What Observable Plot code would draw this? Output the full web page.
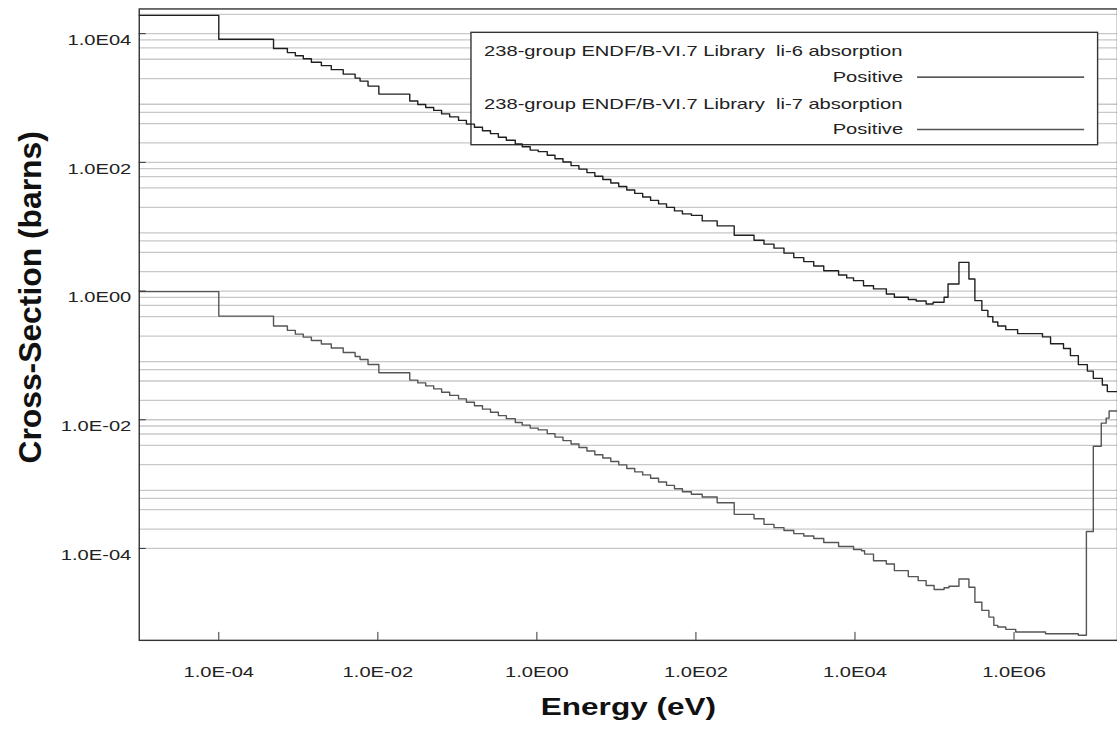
<!DOCTYPE html>
<html><head><meta charset="utf-8">
<script src="https://cdn.jsdelivr.net/npm/d3@7"></script>
<script src="https://cdn.jsdelivr.net/npm/@observablehq/plot@0.6"></script>
<style>
html,body{margin:0;padding:0;background:#fff;overflow:hidden;width:1117px;height:738px}
#chart{position:relative;width:1117px;height:738px;overflow:hidden}
svg{display:block}
</style></head><body><div id="chart"></div>
<script>
// ---- data ----
const li6Energy = [1e-5, 1e-4, 4.88e-4, 7.29e-4, 9.18e-4, 1.156e-3, 1.46e-3, 1.95e-3, 2.60e-3, 3.67e-3, 5.18e-3, 5.98e-3, 7.53e-3, 1.03e-2, 2.52e-2, 3.18e-2, 4.00e-2, 5.04e-2, 6.34e-2, 8.0e-2, 0.1035, 0.130, 0.164, 0.207, 0.261, 0.328, 0.413, 0.535, 0.654, 0.824, 1.04, 1.35, 1.69, 2.13, 2.69, 3.38, 4.26, 5.36, 6.75, 8.50, 10.7, 13.5, 17.0, 21.4, 26.9, 33.9, 42.7, 53.7, 67.6, 87.7, 120, 185, 303, 538, 718, 958, 1.28e3, 1.70e3, 2.27e3, 3.03e3, 4.05e3, 6.22e3, 7.87e3, 9.59e3, 1.28e4, 1.71e4, 2.48e4, 3.13e4, 4.68e4, 5.89e4, 7.85e4, 9.61e4, 1.32e5, 1.48e5, 2.03e5, 2.71e5, 3.22e5, 3.94e5, 4.69e5, 5.41e5, 6.25e5, 7.87e5, 1.11e6, 2.28e6, 2.88e6, 4.19e6, 5.12e6, 6.44e6, 8.36e6, 9.93e6, 1.29e7, 1.49e7, 2e7];
const li6Sigma = [1.92e4, 8.2e3, 5.87e3, 5.08e3, 4.54e3, 4.08e3, 3.6e3, 3.18e3, 2.76e3, 2.35e3, 2.04e3, 1.83e3, 1.53e3, 1.15e3, 900, 794, 713, 641, 566, 509, 449, 393, 351, 310, 279, 246, 220, 193, 175, 155, 147, 129, 114, 101, 88.9, 78.5, 69.3, 60.8, 54.1, 47.8, 42.2, 37.2, 32.9, 29.0, 25.6, 22.6, 20.0, 17.6, 15.8, 15.0, 12.3, 10.3, 7.38, 6.17, 5.35, 4.64, 3.88, 3.31, 2.87, 2.45, 2.07, 1.78, 1.60, 1.45, 1.21, 1.08, 0.90, 0.80, 0.74, 0.70, 0.63, 0.67, 0.80, 1.29, 2.79, 1.54, 0.71, 0.50, 0.40, 0.33, 0.286, 0.251, 0.218, 0.194, 0.152, 0.128, 0.099, 0.072, 0.057, 0.044, 0.0346, 0.0274, 0.0274];

const li7Energy = [1e-5, 1e-4, 4.88e-4, 7.29e-4, 9.18e-4, 1.156e-3, 1.46e-3, 1.95e-3, 2.60e-3, 3.67e-3, 5.18e-3, 5.98e-3, 7.53e-3, 1.03e-2, 2.52e-2, 3.18e-2, 4.00e-2, 5.04e-2, 6.34e-2, 8.0e-2, 0.1035, 0.130, 0.164, 0.207, 0.261, 0.328, 0.413, 0.535, 0.654, 0.824, 1.04, 1.35, 1.69, 2.13, 2.69, 3.38, 4.26, 5.36, 6.75, 8.50, 10.7, 13.5, 17.0, 21.4, 26.9, 33.9, 42.7, 53.7, 67.6, 87.7, 120, 185, 303, 538, 718, 958, 1.28e3, 1.70e3, 2.27e3, 3.03e3, 4.05e3, 6.22e3, 9.59e3, 1.21e4, 1.32e4, 1.71e4, 2.48e4, 3.13e4, 4.68e4, 6.24e4, 7.85e4, 9.89e4, 1.32e5, 1.52e5, 2.03e5, 2.71e5, 3.22e5, 3.94e5, 4.83e5, 5.57e5, 6.25e5, 7.87e5, 1.05e6, 2.49e6, 6.44e6, 8.13e6, 9.93e6, 1.25e7, 1.44e7, 1.57e7, 2e7];
const li7Sigma = [0.98, 0.408, 0.286, 0.245, 0.214, 0.192, 0.170, 0.150, 0.130, 0.111, 0.096, 0.0863, 0.0722, 0.0537, 0.0413, 0.0374, 0.0336, 0.0302, 0.0267, 0.0239, 0.0211, 0.0187, 0.0165, 0.0146, 0.0131, 0.0116, 0.0104, 0.00907, 0.00824, 0.00741, 0.00697, 0.00609, 0.00537, 0.00474, 0.00419, 0.00370, 0.00327, 0.00286, 0.00255, 0.00225, 0.00199, 0.00175, 0.00155, 0.00139, 0.00123, 0.00108, 9.57e-4, 8.46e-4, 7.60e-4, 6.95e-4, 6.29e-4, 5.14e-4, 3.39e-4, 2.90e-4, 2.37e-4, 2.11e-4, 1.90e-4, 1.70e-4, 1.56e-4, 1.43e-4, 1.24e-4, 1.07e-4, 9.64e-5, 9.20e-5, 8.16e-5, 6.45e-5, 5.72e-5, 4.52e-5, 3.65e-5, 3.16e-5, 2.65e-5, 2.30e-5, 2.45e-5, 2.58e-5, 3.35e-5, 2.49e-5, 1.46e-5, 1.09e-5, 8.57e-6, 6.38e-6, 6.01e-6, 5.53e-6, 5.03e-6, 4.73e-6, 4.47e-6, 1.83e-4, 3.87e-3, 8.85e-3, 1.06e-2, 1.37e-2, 1.37e-2];

const xTicks = [1e-4, 1e-2, 1, 1e2, 1e4, 1e6];
const xTickLabels = ["1.0E-04", "1.0E-02", "1.0E00", "1.0E02", "1.0E04", "1.0E06"];
const yTicks = [1e-4, 1e-2, 1, 1e2, 1e4];
const yTickLabels = ["1.0E-04", "1.0E-02", "1.0E00", "1.0E02", "1.0E04"];
const gridValues = [1e-4, 2e-4, 4e-4, 6e-4, 8e-4, 2e-3, 4e-3, 6e-3, 8e-3, 1e-2, 2e-2, 4e-2, 6e-2, 8e-2, 0.2, 0.4, 0.6, 0.8, 1, 2, 4, 6, 8, 20, 40, 60, 80, 100, 200, 400, 600, 800, 2000, 4000, 6000, 8000, 1e4, 2e4];

const seriesNames = ["238-group ENDF/B-VI.7 Library  li-6 absorption", "238-group ENDF/B-VI.7 Library  li-7 absorption"];
const seriesSub = ["Positive", "Positive"];
const seriesColors = ["#1f1f1f", "#555555"];
const xTitle = "Energy (eV)";
const yTitle = "Cross-Section (barns)";

// ---- build ----
const li6Rows = li6Energy.map((e, i) => ({E: e, s: li6Sigma[i]}));
const li7Rows = li7Energy.map((e, i) => ({E: e, s: li7Sigma[i]}));

const W = 1123, H = 738;
const plotBottom = 643.3;
const FONT = "'Liberation Sans', Arial, sans-serif";

const chart = Plot.plot({
  width: W, height: H,
  marginLeft: 139.5, marginRight: 0, marginTop: 8.5, marginBottom: H - plotBottom,
  style: {fontFamily: FONT, background: "#fff", color: "#222"},
  x: {type: "log", domain: [1e-5, 2e7], label: null},
  y: {type: "log", domain: [3.73e-6, 2.42e4], label: null},
  marks: [
    Plot.ruleY(gridValues, {stroke: "#c8c8c8", strokeWidth: 1.3}),
    Plot.line(li6Rows, {x: "E", y: "s", curve: "step-after", stroke: seriesColors[0], strokeWidth: 1.4}),
    Plot.line(li7Rows, {x: "E", y: "s", curve: "step-after", stroke: seriesColors[1], strokeWidth: 1.4}),
    Plot.frame({stroke: "#333", strokeWidth: 1.4}),
    Plot.axisX(xTicks, {tickSize: -8, tickFormat: () => "", label: null, stroke: "#333"}),
    Plot.axisY(yTicks, {tickSize: -7, tickFormat: () => "", label: null, stroke: "#333"}),
    Plot.axisX(xTicks, {tickSize: 0, tickPadding: 26, fontSize: 15, fill: "#222", label: null,
      tickFormat: d => xTickLabels[xTicks.indexOf(d)]}),
    Plot.axisY(yTicks, {tickSize: 0, tickPadding: 8, fontSize: 15, fill: "#222", label: null, dy: 6.5,
      tickFormat: d => yTickLabels[yTicks.indexOf(d)]}),
    Plot.text([xTitle], {frameAnchor: "bottom", dy: 75, fontSize: 23.5, fontWeight: "bold", fill: "#111"})
  ]
});

document.getElementById("chart").appendChild(chart);
const svg = d3.select(chart);

// legend box (drawn above grid, below curves)
const grid = svg.select('g[aria-label="rule"]').node();
const leg = d3.create("svg:g").attr("class", "legend")
  .attr("font-family", FONT).attr("font-size", 15).attr("fill", "#222").attr("text-anchor", "start");
leg.append("rect").attr("x", 473.5).attr("y", 32.5).attr("width", 630).attr("height", 113)
  .attr("fill", "#fff").attr("stroke", "#333").attr("stroke-width", 1.4);
seriesNames.forEach((name, i) => {
  const base = 56.5 + i * 52.7;
  leg.append("text").attr("class", "lt").attr("x", 486.7).attr("y", base).attr("text-anchor", "start").text(name);
  leg.append("text").attr("class", "lt").attr("x", 908).attr("y", base + 26).attr("text-anchor", "end").text(seriesSub[i]);
  leg.append("line").attr("x1", 922).attr("x2", 1090).attr("y1", base + 21).attr("y2", base + 21)
    .attr("stroke", seriesColors[i]).attr("stroke-width", 1.4);
});
grid.after(leg.node());

// y-axis title
svg.append("text")
  .attr("font-family", FONT).attr("font-size", 32).attr("font-weight", "bold").attr("fill", "#111")
  .attr("text-anchor", "middle").attr("dominant-baseline", "central")
  .attr("transform", "translate(30,299) rotate(-90)")
  .text(yTitle);

// horizontal stretch of the text (the reference is wider than tall)
const K = 1.35;
function stretch(nodes, k) {
  nodes.each(function() {
    const L = this.getComputedTextLength();
    if (L > 0) { this.setAttribute("textLength", L * k); this.setAttribute("lengthAdjust", "spacingAndGlyphs"); }
  });
}
stretch(svg.selectAll('g[aria-label="x-axis tick label"] text, g[aria-label="y-axis tick label"] text'), K);
stretch(leg.selectAll("text.lt"), K);
stretch(svg.selectAll('g[aria-label="text"] text'), K);
</script>
</body></html>
